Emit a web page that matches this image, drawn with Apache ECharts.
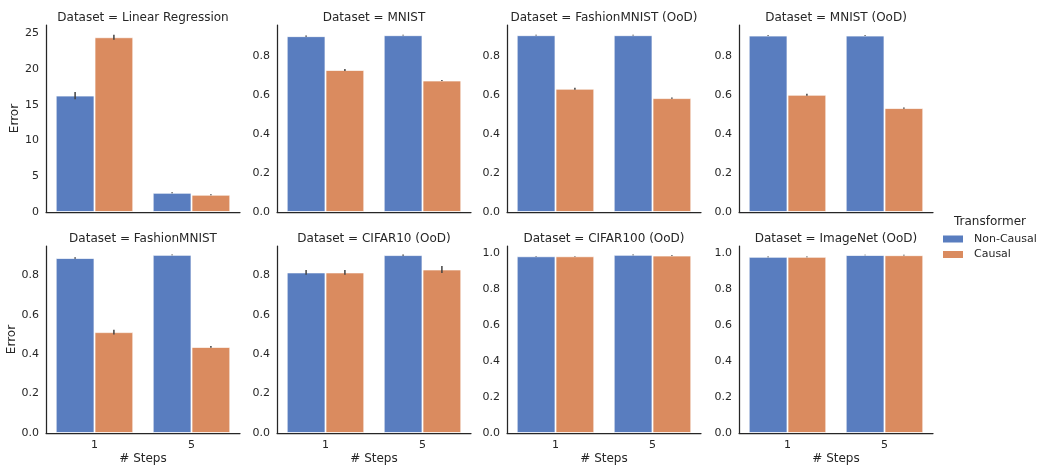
<!DOCTYPE html>
<html>
<head>
<meta charset="utf-8">
<script src="https://cdn.jsdelivr.net/npm/echarts@6/dist/echarts.min.js"></script>
<style>html,body{margin:0;padding:0;background:#fff;}#c{width:1039px;height:466px;}</style>
</head>
<body>
<div id="c"></div>
<script>
const datasets = ['Linear Regression','MNIST','FashionMNIST (OoD)','MNIST (OoD)','FashionMNIST','CIFAR10 (OoD)','CIFAR100 (OoD)','ImageNet (OoD)'];
const steps = ['1','5'];
const seriesNames = ['Non-Causal','Causal'];
const nonCausal = [[16.29,2.69],[0.900,0.905],[0.905,0.905],[0.903,0.903],[0.888,0.904],[0.815,0.903],[0.983,0.991],[0.980,0.990]];
const causal = [[24.45,2.42],[0.727,0.673],[0.631,0.583],[0.600,0.532],[0.512,0.437],[0.815,0.830],[0.983,0.987],[0.980,0.989]];
const nonCausalErr = [[0.5,0.06],[0.003,0.002],[0.002,0.002],[0.002,0.002],[0.004,0.002],[0.012,0.003],[0.002,0.002],[0.002,0.002]];
const causalErr = [[0.35,0.07],[0.005,0.003],[0.005,0.003],[0.005,0.003],[0.012,0.004],[0.012,0.018],[0.002,0.002],[0.002,0.002]];
const yMax = [26.16,0.957,0.957,0.957,0.949,0.949,1.04,1.04];
const yInterval = [5,0.2,0.2,0.2,0.2,0.2,0.2,0.2];

const colors = ['#597dbf','#da8b5f'];
const txt = '#262626';
const lefts = [46,277,507,739];
const tops = [25,246];
const W = 194, H = 187;

const grid = [], xAxis = [], yAxis = [], series = [], graphic = [];
datasets.forEach((name, i) => {
  const r = Math.floor(i/4), c = i%4;
  grid.push({left: lefts[c], top: tops[r], width: W, height: H, containLabel: false});
  xAxis.push({
    type: 'category', gridIndex: i, data: steps,
    axisLine: {lineStyle: {color: txt, width: 1.25}},
    axisTick: {show: false},
    axisLabel: {show: r === 1, color: txt, fontSize: 11, fontFamily: 'DejaVu Sans', margin: 7},
    name: r === 1 ? '# Steps' : '', nameLocation: 'middle', nameGap: 20,
    nameTextStyle: {color: txt, fontSize: 12, fontFamily: 'DejaVu Sans'}
  });
  yAxis.push({
    type: 'value', gridIndex: i, min: 0, max: yMax[i], interval: yInterval[i],
    axisLine: {show: true, lineStyle: {color: txt, width: 1.25}},
    axisTick: {show: false}, splitLine: {show: false},
    axisLabel: {color: txt, fontSize: 11, fontFamily: 'DejaVu Sans', margin: 7, showMaxLabel: false,
      formatter: v => i === 0 ? String(Math.round(v)) : v.toFixed(1)},
    name: c === 0 ? 'Error' : '', nameLocation: 'middle', nameGap: 24,
    nameTextStyle: {color: txt, fontSize: 12, fontFamily: 'DejaVu Sans'}
  });
  [nonCausal, causal].forEach((vals, s) => {
    series.push({
      type: 'bar', name: seriesNames[s], xAxisIndex: i, yAxisIndex: i,
      data: vals[i], barWidth: '40%', barGap: '0%',
      itemStyle: {color: colors[s], borderColor: 'rgba(255,255,255,0.7)', borderWidth: 1},
      emphasis: {disabled: true}, animation: false
    });
  });
  const errData = [];
  [nonCausalErr, causalErr].forEach((errs, s) => {
    const vals = s === 0 ? nonCausal : causal;
    steps.forEach((st, k) => {
      errData.push([k, vals[i][k] - errs[i][k], vals[i][k] + errs[i][k], s]);
    });
  });
  series.push({
    type: 'custom', xAxisIndex: i, yAxisIndex: i, data: errData, silent: true, animation: false,
    renderItem: (params, api) => {
      const k = api.value(0), s = api.value(3);
      const w = api.size([1, 0])[0];
      const p1 = api.coord([k, api.value(1)]);
      const p2 = api.coord([k, api.value(2)]);
      const x = p1[0] + (s === 0 ? -0.2 : 0.2) * w;
      return {type: 'line', shape: {x1: x, y1: p1[1], x2: x, y2: p2[1]},
        style: {stroke: '#424242', lineWidth: 1.5}};
    },
    z: 5
  });
  graphic.push({type: 'text', x: lefts[c] + W/2, y: tops[r] - 7,
    style: {text: 'Dataset = ' + name, fill: txt, fontSize: 12, fontFamily: 'DejaVu Sans', textAlign: 'center', textVerticalAlign: 'middle'}});
});
graphic.push({type: 'text', x: 954, y: 222,
  style: {text: 'Transformer', fill: txt, fontSize: 12, fontFamily: 'DejaVu Sans', textAlign: 'left', textVerticalAlign: 'middle'}});

const chart = echarts.init(document.getElementById('c'), null, {renderer: 'canvas'});
chart.setOption({
  animation: false,
  grid, xAxis, yAxis, series, graphic,
  legend: {
    data: seriesNames.map((n, s) => ({name: n, itemStyle: {color: colors[s], borderWidth: 0}})),
    orient: 'vertical', left: 943, top: 233.5, padding: 0, itemWidth: 20, itemHeight: 7, itemGap: 4.5,
    icon: 'rect', textStyle: {color: txt, fontSize: 11, fontFamily: 'DejaVu Sans', padding: [0,0,0,6]},
    selectedMode: false
  }
});
</script>
</body>
</html>
